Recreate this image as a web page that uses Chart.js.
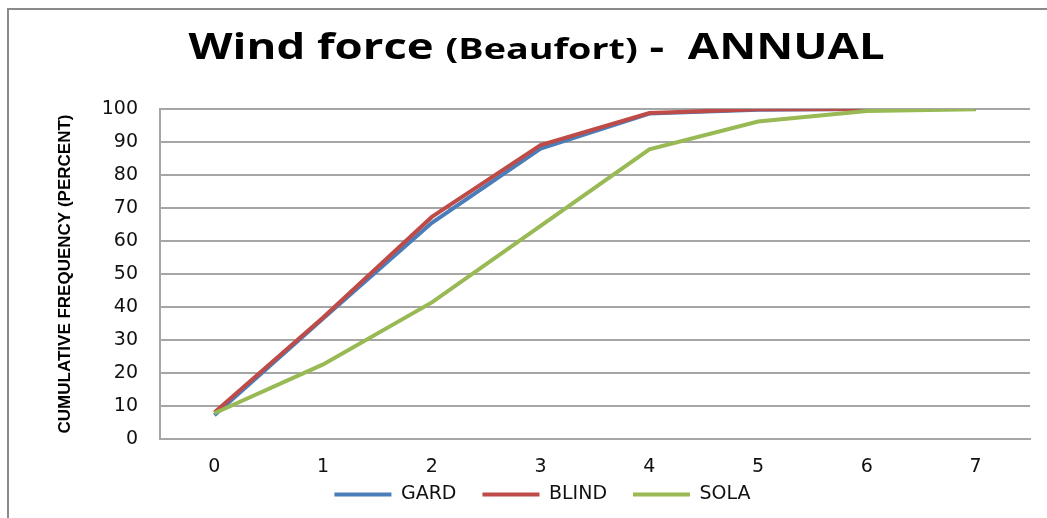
<!DOCTYPE html>
<html lang="en">
<head>
<meta charset="UTF-8">
<title>Wind force (Beaufort) - ANNUAL</title>
<script src="https://cdn.jsdelivr.net/npm/chart.js"></script>
<style>
body {
    margin: 0;
    background: #ffffff;
}
#wrap {
    position: relative;
    width: 1047px;
    height: 518px;
    overflow: hidden;
}
/* marco exterior del grafico */
#frame {
    position: absolute;
    left: 7px;
    top: 8px;
    width: 1100px;
    height: 600px;
    border-left: 2px solid #8a8a8a;
    border-top: 2px solid #8a8a8a;
}
#title {
    position: absolute;
    left: 0;
    top: 24px;
    width: 1073px;
    text-align: center;
    font-family: 'Open Sans', sans-serif;
    font-weight: bold;
    font-size: 35px;
    line-height: 44px;
    color: #000;
    white-space: pre;
    transform: scaleX(1.3);
    transform-origin: 536px 50%;
}
#title .small {
    font-size: 29px;
}
canvas {
    position: absolute;
    left: 0;
    top: 0;
}
</style>
</head>
<body>
<div id="wrap">
    <div id="frame"></div>
    <canvas id="chart" width="1047" height="518"></canvas>
    <div id="title">Wind force <span class="small">(Beaufort)</span> -  ANNUAL</div>
</div>

<script>
// Escala Beaufort (eje X)
var categories = ['0', '1', '2', '3', '4', '5', '6', '7'];

// Frecuencia acumulada (%)
var gard  = [7.2, 36.5, 65.5, 88.0, 98.6, 99.8, 100, 100];
var blind = [8.0, 36.8, 67.3, 89.1, 98.8, 99.9, 100, 100];
var sola  = [7.8, 22.6, 41.4, 64.6, 87.8, 96.2, 99.4, 99.9];

var yTicks = { min: 0, max: 100, step: 10 };

var tickFont = { family: 'DejaVu Sans', size: 19 };
var gridColor = '#a6a6a6';

// sube un poco la leyenda para dejarla justo debajo de las etiquetas del eje X
var legendShift = {
    id: 'legendShift',
    afterLayout: function(chart) {
        chart.legend.top -= 20;
    }
};

var ctx = document.getElementById('chart').getContext('2d');
var myChart = new Chart(ctx, {
    type: 'line',
    data: {
        labels: categories,
        datasets: [{
            label: 'GARD',
            data: gard,
            borderColor: '#4a7ebb',
            backgroundColor: '#4a7ebb',
            order: 3
        }, {
            label: 'BLIND',
            data: blind,
            borderColor: '#be4b48',
            backgroundColor: '#be4b48',
            order: 2
        }, {
            label: 'SOLA',
            data: sola,
            borderColor: '#98b954',
            backgroundColor: '#98b954',
            order: 1
        }]
    },
    plugins: [legendShift],
    options: {
        responsive: false,
        animation: false,
        devicePixelRatio: 1,
        elements: {
            line: { borderWidth: 4, tension: 0, fill: false },
            point: { radius: 0, hoverRadius: 0 }
        },
        layout: {
            padding: { top: 109, left: 55, right: 17, bottom: 0 }
        },
        plugins: {
            title: { display: false },
            tooltip: { enabled: false },
            legend: {
                position: 'bottom',
                maxHeight: 39,
                labels: {
                    boxWidth: 57,
                    boxHeight: 0,
                    padding: 26,
                    color: '#111',
                    font: { family: 'DejaVu Sans', size: 19 },
                    sort: function(a, b) { return a.datasetIndex - b.datasetIndex; }
                }
            }
        },
        scales: {
            x: {
                offset: true,
                grid: { display: false, drawTicks: false },
                border: { color: gridColor, width: 2 },
                ticks: { padding: 17, color: '#111', font: tickFont, maxRotation: 0 },
                afterFit: function(s) { s.height = 40; }
            },
            y: {
                min: yTicks.min,
                max: yTicks.max,
                grid: { color: gridColor, lineWidth: 2, drawTicks: false },
                border: { color: gridColor, width: 2 },
                ticks: { stepSize: yTicks.step, padding: 22, color: '#111', font: tickFont },
                title: {
                    display: true,
                    text: 'CUMULATIVE FREQUENCY (PERCENT)',
                    color: '#000',
                    padding: 0,
                    font: { family: 'Liberation Sans', weight: 'bold', size: 17 }
                },
                afterFit: function(s) { s.width = 105; }
            }
        }
    }
});
</script>
</body>
</html>
